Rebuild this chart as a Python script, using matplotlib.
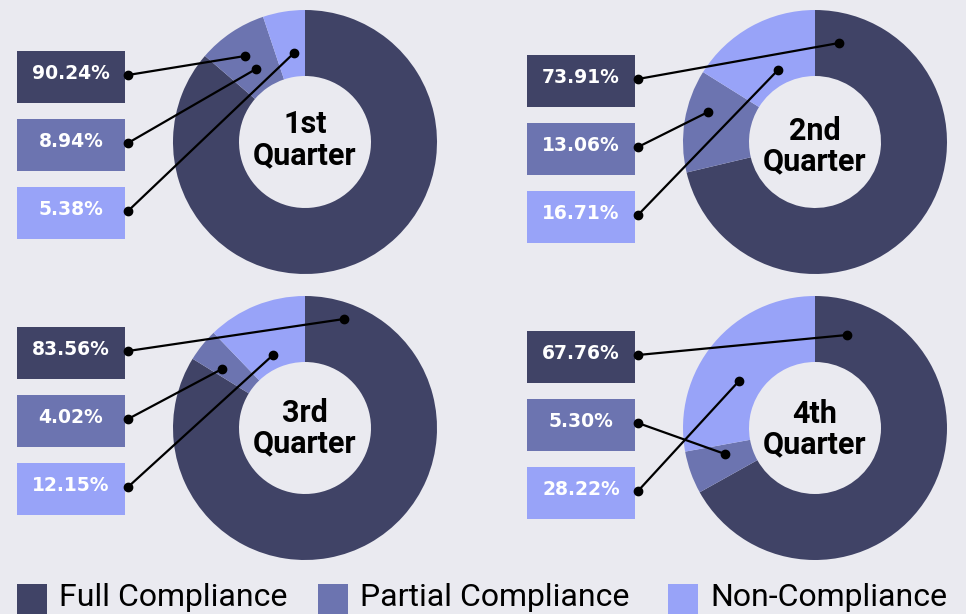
import matplotlib
matplotlib.use('Agg')
import matplotlib.pyplot as plt
from matplotlib.patches import Rectangle

# --- Data ---
categories = ['Full Compliance', 'Partial Compliance', 'Non-Compliance']
quarters = ['1st', '2nd', '3rd', '4th']
q1 = [90.24, 8.94, 5.38]
q2 = [73.91, 13.06, 16.71]
q3 = [83.56, 4.02, 12.15]
q4 = [67.76, 5.30, 28.22]
values = [q1, q2, q3, q4]

# --- Style ---
colors = ['#404366', '#6C74B0', '#98A3F8']
bg = '#EAEAF0'
W, H = 966, 614

# layout in pixels (y measured from top)
centers = [(305, 142), (815, 142), (305, 428), (815, 428)]
box_x = [17, 527, 17, 527]
box_top = [51, 55, 327, 331]
title_offsets = [(-9, 22), (-2, 28), (-6, 24), (-5, 25)]
# where each leader line ends on the ring, relative to the donut centre
anchors = [
    [(-60, -86), (-49, -73), (-11, -89)],
    [(24, -99), (-107, -30), (-37, -72)],
    [(39, -109), (-83, -59), (-32, -73)],
    [(32, -93), (-90, 26), (-76, -47)],
]
R_OUT, RING = 132, 66
BOX_W, BOX_H, BOX_STEP = 108, 52, 68


def Y(py):
    return H - py


fig = plt.figure(figsize=(W / 100, H / 100), dpi=100)
fig.patch.set_facecolor(bg)
ax = fig.add_axes([0, 0, 1, 1])
ax.set_facecolor(bg)

for i, vals in enumerate(values):
    cx, cy = centers[i]
    ax.pie(vals, colors=colors, startangle=90, counterclock=False,
           radius=R_OUT, center=(cx, Y(cy)),
           wedgeprops=dict(width=RING, linewidth=0))

    # quarter name in the hole
    o1, o2 = title_offsets[i]
    ax.text(cx, Y(cy + o1), quarters[i], ha='center', va='baseline',
            fontsize=22, fontweight='bold', family='Roboto', color='black')
    ax.text(cx, Y(cy + o2), 'Quarter', ha='center', va='baseline',
            fontsize=22, fontweight='bold', family='Roboto', color='black')

    # value boxes + leader lines
    for j, v in enumerate(vals):
        top = box_top[i] + j * BOX_STEP
        ax.add_patch(Rectangle((box_x[i], Y(top + BOX_H)), BOX_W, BOX_H,
                               facecolor=colors[j], edgecolor='none', zorder=3))
        ax.text(box_x[i] + BOX_W / 2, Y(top + 28), f'{v:.2f}%',
                ha='center', va='baseline', fontsize=13.5, fontweight='bold',
                color='white', family='DejaVu Sans', zorder=4)
        lx, ly = box_x[i] + BOX_W + 3, top + BOX_H / 2 - 2
        ax_, ay_ = anchors[i][j]
        rx, ry = cx + ax_, cy + ay_
        ax.plot([lx, rx], [Y(ly), Y(ry)], color='black', lw=1.6, zorder=5,
                marker='o', markersize=6, solid_capstyle='round')

# --- Legend along the bottom ---
leg_sq_x = [17, 318, 668]
for k, lab in enumerate(categories):
    ax.add_patch(Rectangle((leg_sq_x[k], Y(614)), 30, 30,
                           facecolor=colors[k], edgecolor='none'))
    ax.text(leg_sq_x[k] + 42, Y(606), lab, ha='left', va='baseline',
            fontsize=23, family='Roboto', color='black')

ax.set_xlim(0, W)
ax.set_ylim(0, H)
ax.set_aspect('auto')
ax.axis('off')

fig.savefig('out.png', dpi=100, facecolor=bg)
